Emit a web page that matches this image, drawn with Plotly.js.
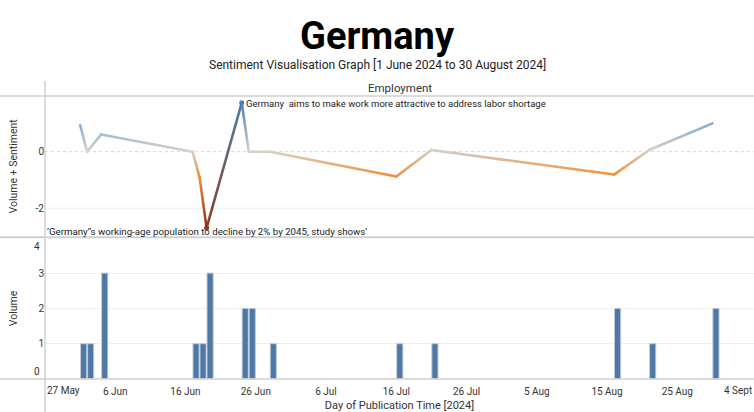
<!DOCTYPE html>
<html>
<head>
<meta charset="utf-8">
<script src="https://cdn.plot.ly/plotly-3.0.1.min.js"></script>
<style>html,body{margin:0;padding:0;background:#fff;}#chart{width:754px;height:412px;}</style>
</head>
<body>
<div id="chart"></div>
<script>
// ---- data ----
const pubDates = ['2024-06-01','2024-06-02','2024-06-04','2024-06-17','2024-06-18','2024-06-19','2024-06-24','2024-06-25','2024-06-28','2024-07-16','2024-07-21','2024-08-16','2024-08-21','2024-08-30'];
const volume = [1,1,3,1,1,3,2,2,1,1,1,2,1,2];
const sentiment = [0.94,0,0.61,0,-0.9,-2.7,1.73,0,0,-0.88,0.06,-0.81,0.06,1.0];
const headlineDates = ['2024-06-24','2024-06-19'];
const headlineValues = [1.73,-2.7];
const headlineTexts = ['Germany  aims to make work more attractive to address labor shortage','’Germany’’s working-age population to decline by 2% by 2045, study shows’'];
const tickDates = ['2024-05-27','2024-06-06','2024-06-16','2024-06-26','2024-07-06','2024-07-16','2024-07-26','2024-08-05','2024-08-15','2024-08-25','2024-09-04'];
const tickLabels = ['27 May','6 Jun','16 Jun','26 Jun','6 Jul','16 Jul','26 Jul','5 Aug','15 Aug','25 Aug','4 Sept'];
const volumeTicks = [0,1,2,3,4];
const sentimentTicks = [0,-2];

// ---- colour scale (orange-blue diverging) ----
const colorStops = [[-2.7,[140,58,32]],[-1.6,[208,96,30]],[-0.8,[245,146,58]],[0,[214,210,200]],[0.8,[145,185,220]],[1.7,[79,127,178]],[2.7,[43,92,138]]];
function sentColor(v){
  if(v<=colorStops[0][0]) return colorStops[0][1];
  for(let i=1;i<colorStops.length;i++){
    if(v<=colorStops[i][0]){
      const a=colorStops[i-1], b=colorStops[i];
      const t=(v-a[0])/(b[0]-a[0]);
      return a[1].map((c,k)=>Math.round(c+(b[1][k]-c)*t));
    }
  }
  return colorStops[colorStops.length-1][1];
}
const rgb = c => 'rgb('+c.join(',')+')';

const FONT = 'Roboto, "Open Sans", sans-serif';
const data = [];
data.push({
  type:'bar', x:pubDates, y:volume, xaxis:'x', yaxis:'y2',
  xperiod:86400000, xperiodalignment:'middle', width:0.88*86400000,
  marker:{color:'#4e79a7', line:{color:'#c3ccd8', width:1}},
  hoverinfo:'skip', showlegend:false
});
const segMap = {};
for(let i=0;i<pubDates.length-1;i++){
  segMap[data.length] = [rgb(sentColor(sentiment[i])), rgb(sentColor(sentiment[i+1]))];
  data.push({
    type:'scatter', mode:'lines', x:[pubDates[i],pubDates[i+1]], y:[sentiment[i],sentiment[i+1]],
    xaxis:'x', yaxis:'y', line:{color:rgb(sentColor((sentiment[i]+sentiment[i+1])/2)), width:2.6},
    hoverinfo:'skip', showlegend:false
  });
}
data.push({
  type:'scatter', mode:'markers', x:headlineDates, y:headlineValues, xaxis:'x', yaxis:'y',
  marker:{size:5, color:headlineValues.map(v=>rgb(sentColor(v)))}, hoverinfo:'skip', showlegend:false
});

const lineCol = '#d0d0d0';
const tickFont = {family:FONT, size:10, color:'#333'};
const nV = volumeTicks.length;
const nT = tickLabels.length;
const layout = {
  width:754, height:412,
  margin:{l:45, r:0, t:96, b:32.5},
  paper_bgcolor:'#fff', plot_bgcolor:'#fff',
  font:{family:FONT, size:10, color:'#333'},
  title:{text:'<b>Germany</b>', font:{family:FONT, size:38, color:'#000'}, x:0.5, xanchor:'center', y:1-36/412, yanchor:'middle', yref:'container'},
  xaxis:{
    type:'date', anchor:'y2', domain:[0,1],
    range:['2024-05-27','2024-09-04 22:00'],
    tickvals:tickDates, ticktext:tickLabels.map((t,i)=>(i===0||i===nT-1)?'':t), ticks:'', showgrid:false, zeroline:false,
    showline:false, tickfont:tickFont, ticklabelstandoff:5,
    title:{text:'Day of Publication Time [2024]', font:{family:FONT, size:11, color:'#333'}, standoff:12},
    automargin:false
  },
  yaxis:{
    domain:[0.5026,1], range:[-3.01,1.97], tickvals:sentimentTicks, ticktext:sentimentTicks.map(String),
    showgrid:false, zeroline:false, ticks:'', showline:false,
    tickfont:tickFont,
    title:{text:'Volume + Sentiment', font:{family:FONT, size:10.5, color:'#333'}, standoff:15},
    automargin:false
  },
  yaxis2:{
    domain:[0,0.4991], range:[0,4], tickvals:volumeTicks,
    ticktext:volumeTicks.map((v,i)=>(i===0||i===nV-1)?'':String(v)),
    showgrid:true, gridcolor:'#efefef', zeroline:false, ticks:'', showline:false,
    tickfont:tickFont,
    title:{text:'Volume', font:{family:FONT, size:10.5, color:'#333'}, standoff:18},
    automargin:false
  },
  annotations:[
    {text:'Sentiment Visualisation Graph [1 June 2024 to 30 August 2024]', xref:'paper', yref:'paper', x:(377-45)/709, y:(379.5-65)/283.5, xanchor:'center', yanchor:'middle', showarrow:false, font:{family:FONT, size:12, color:'#222'}},
    {text:'Employment', xref:'paper', yref:'paper', x:0.5, y:(379.5-88)/283.5, xanchor:'center', yanchor:'middle', showarrow:false, font:{family:FONT, size:11.5, color:'#333'}},
    {text:headlineTexts[0], x:headlineDates[0], y:headlineValues[0], xref:'x', yref:'y', xanchor:'left', yanchor:'middle', xshift:2, yshift:-1, showarrow:false, font:{family:FONT, size:9.5, color:'#222'}},
    {text:headlineTexts[1], x:headlineDates[1], y:headlineValues[1], xref:'x', yref:'y', xanchor:'center', yanchor:'middle', yshift:-3, showarrow:false, font:{family:FONT, size:9.7, color:'#222'}},
    // edge tick labels nudged inside, as in the reference
    {text:tickLabels[0], x:tickDates[0], xref:'x', y:0, yref:'paper', xanchor:'left', yanchor:'middle', yshift:-11.5, showarrow:false, font:tickFont},
    {text:tickLabels[nT-1], x:1, xref:'paper', y:0, yref:'paper', xanchor:'right', yanchor:'middle', yshift:-11.5, showarrow:false, font:tickFont},
    {text:String(volumeTicks[0]), x:0, xref:'paper', y:volumeTicks[0], yref:'y2', xanchor:'right', yanchor:'bottom', xshift:-3, yshift:0, showarrow:false, font:tickFont},
    {text:String(volumeTicks[nV-1]), x:0, xref:'paper', y:volumeTicks[nV-1], yref:'y2', xanchor:'right', yanchor:'top', xshift:-3, yshift:-1, showarrow:false, font:tickFont}
  ],
  shapes:[
    {type:'line', xref:'paper', yref:'y', x0:0, x1:1, y0:-2, y1:-2, line:{color:'#efefef', width:1}, layer:'below'},
    {type:'line', xref:'paper', yref:'y', x0:0, x1:1, y0:0, y1:0, line:{color:'#d4d4d4', width:1, dash:'dot'}, layer:'below'},
    {type:'line', xref:'paper', yref:'paper', x0:-45/709, x1:1, y0:1, y1:1, line:{color:lineCol, width:1.5}},
    {type:'line', xref:'paper', yref:'paper', x0:-45/709, x1:1, y0:(379.5-237.5)/283.5, y1:(379.5-237.5)/283.5, line:{color:lineCol, width:2}},
    {type:'line', xref:'paper', yref:'paper', x0:-45/709, x1:1, y0:0, y1:0, line:{color:lineCol, width:1.5}},
    {type:'line', xref:'paper', yref:'paper', x0:0, x1:0, y0:(379.5-81)/283.5, y1:-33/283.5, line:{color:lineCol, width:1.5}}
  ]
};

function applyGradients(gd){
  const NS='http://www.w3.org/2000/svg';
  const svg = gd.querySelector('svg.main-svg');
  let defs = svg.querySelector('defs');
  if(!defs){ defs=document.createElementNS(NS,'defs'); svg.insertBefore(defs, svg.firstChild); }
  gd.querySelectorAll('.scatterlayer g.trace').forEach(el=>{
    const d0 = el.__data__ && el.__data__[0];
    if(!d0 || !d0.trace) return;
    const idx = d0.trace.index;
    const cols = segMap[idx];
    if(!cols) return;
    const path = el.querySelector('path.js-line');
    if(!path) return;
    const nums = (path.getAttribute('d')||'').match(/-?\d*\.?\d+(?:e[-+]?\d+)?/gi);
    if(!nums || nums.length<4) return;
    const n = nums.map(Number);
    const g = document.createElementNS(NS,'linearGradient');
    g.setAttribute('id','segGrad'+idx);
    g.setAttribute('gradientUnits','userSpaceOnUse');
    g.setAttribute('x1',n[0]); g.setAttribute('y1',n[1]);
    g.setAttribute('x2',n[n.length-2]); g.setAttribute('y2',n[n.length-1]);
    [[0,cols[0]],[1,cols[1]]].forEach(s=>{
      const st=document.createElementNS(NS,'stop');
      st.setAttribute('offset',s[0]); st.setAttribute('stop-color',s[1]);
      g.appendChild(st);
    });
    defs.appendChild(g);
    path.style.stroke='url(#segGrad'+idx+')';
    path.style.strokeLinecap='round';
    path.style.strokeLinejoin='round';
  });
}

Plotly.newPlot('chart', data, layout, {staticPlot:true, displayModeBar:false}).then(applyGradients);
</script>
</body>
</html>
